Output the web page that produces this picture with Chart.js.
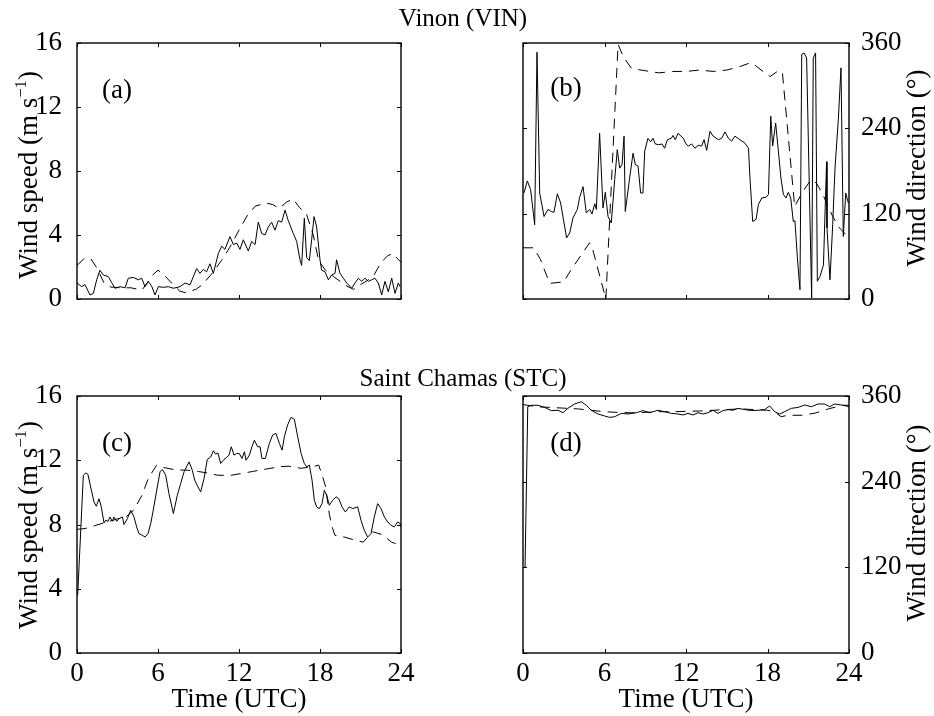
<!DOCTYPE html>
<html>
<head>
<meta charset="utf-8">
<title>Wind speed and direction - Vinon and Saint Chamas</title>
<script src="https://cdn.jsdelivr.net/npm/chart.js@4.4.0/dist/chart.umd.min.js"></script>
<style>
  body { margin: 0; background: #fff; }
  #page { position: relative; width: 934px; height: 716px; font-family: 'Liberation Serif', 'Times New Roman', serif; color: #000; }
  #page canvas { position: absolute; left: 0; top: 0; }
  .txt { position: absolute; white-space: nowrap; transform: translate(-50%, -50%); line-height: 1; font-size: 27px; }
  .rot { transform: translate(-50%, -50%) rotate(-90deg); }
  .title { font-size: 25px; }
  sup { font-size: 0.62em; vertical-align: 0.6em; line-height: 0; }
</style>
</head>
<body>
<div id="page">
  <canvas id="chartA" width="934" height="716"></canvas>
  <canvas id="chartB" width="934" height="716"></canvas>
  <canvas id="chartC" width="934" height="716"></canvas>
  <canvas id="chartD" width="934" height="716"></canvas>

  <div class="txt title" style="left:463px; top:17px;">Vinon (VIN)</div>
  <div class="txt title" style="left:463px; top:377px;">Saint Chamas (STC)</div>

  <div class="txt" style="left:117px; top:89px;">(a)</div>
  <div class="txt" style="left:566px; top:87px;">(b)</div>
  <div class="txt" style="left:117px; top:442px;">(c)</div>
  <div class="txt" style="left:566px; top:442px;">(d)</div>

  <div class="txt rot" style="left:28px; top:175px;">Wind speed (m s<sup>−1</sup>)</div>
  <div class="txt rot" style="left:28px; top:525px;">Wind speed (m s<sup>−1</sup>)</div>
  <div class="txt rot" style="left:916px; top:168px;">Wind direction (°)</div>
  <div class="txt rot" style="left:916px; top:523px;">Wind direction (°)</div>

  <div class="txt" style="left:239px; top:698px;">Time (UTC)</div>
  <div class="txt" style="left:686px; top:698px;">Time (UTC)</div>
</div>

<script>
'use strict'

// Tick labels

const timeTicks = [0, 6, 12, 18, 24];
const speedTicks = [0, 4, 8, 12, 16];
const dirTicks = [0, 120, 240, 360];

// Vinon (VIN) - wind speed, panel (a)
// solid = observed, dashed = model

const vinSpeedObsTime = [0, 0.35, 0.59, 0.96, 1.21, 1.46, 1.70, 1.95, 2.32, 2.81, 3.19, 3.56, 3.80, 4.17, 4.54,
  4.79, 5.04, 5.28, 5.53, 5.78, 6.02, 6.40, 6.77, 7.14, 7.63, 8.0, 8.37, 8.86, 9.11, 9.36,
  9.60, 9.85, 10.10, 10.47, 10.72, 10.96, 11.33, 11.58, 11.83, 12.07, 12.32, 12.69, 12.94, 13.19, 13.43,
  13.68, 13.93, 14.17, 14.42, 14.67, 14.91, 15.16, 15.41, 15.65, 16.02, 16.27, 16.52, 16.64, 16.84, 17.01,
  17.21, 17.38, 17.56, 17.75, 18.0, 18.12, 18.37, 18.62, 18.86, 19.11, 19.23, 19.48, 19.73, 19.98, 20.35,
  20.59, 20.84, 21.09, 21.33, 21.58, 21.83, 22.07, 22.32, 22.57, 22.81, 23.06, 23.31, 23.56, 23.80, 23.93];
const vinSpeedObs = [1.0, 0.77, 0.9, 0.25, 0.35, 1.2, 1.8, 1.5, 1.4, 0.67, 0.77, 0.7, 1.3, 1.35, 1.2,
  1.3, 0.77, 1.1, 0.8, 0.25, 0.77, 0.73, 0.77, 0.67, 0.77, 1.0, 0.88, 1.9, 1.6, 1.85,
  1.7, 2.2, 1.6, 2.85, 3.3, 3.1, 3.9, 3.4, 3.5, 3.1, 3.7, 3.0, 3.6, 3.4, 4.8,
  4.1, 4.0, 4.5, 4.8, 4.3, 4.9, 4.8, 5.55, 4.9, 4.1, 3.6, 2.45, 2.1, 5.05, 2.6,
  2.4, 3.7, 5.15, 4.5, 2.45, 1.8, 1.7, 1.2, 1.5, 1.6, 2.45, 1.6, 1.3, 1.0, 0.67,
  1.0, 1.3, 1.1, 1.3, 1.1, 1.2, 1.3, 1.0, 0.25, 1.1, 0.45, 1.3, 0.35, 1.0, 0.77];
const vinSpeedModTime = [0, 0.5, 1.0, 1.5, 2.0, 2.5, 3.2, 4.0, 4.8, 5.2, 5.6, 6.0, 6.4, 7.0, 7.6,
  8.0, 8.8, 9.3, 10.0, 10.7, 11.3, 12.0, 12.6, 13.2, 14.0, 14.5, 15.0, 15.5, 16.0, 16.5,
  17.0, 17.5, 17.9, 18.4, 19.0, 19.5, 20.0, 20.5, 21.0, 21.5, 22.0, 22.5, 23.0, 23.4, 23.7, 24.0];
const vinSpeedMod = [2.1, 2.5, 2.55, 1.9, 1.0, 0.75, 0.7, 0.7, 0.55, 1.0, 1.5, 1.8, 1.55, 1.0, 0.5,
  0.4, 0.6, 0.9, 1.6, 2.4, 3.2, 4.3, 5.2, 5.8, 6.0, 5.9, 5.65, 6.05, 6.25, 5.7,
  5.3, 4.0, 2.4, 1.8, 1.4, 1.1, 0.8, 0.6, 0.9, 1.15, 1.5, 2.25, 2.7, 2.85, 2.55, 2.3];

// Vinon (VIN) - wind direction, panel (b)

const vinDirObsTime = [0.07, 0.32, 0.56, 0.86, 1.03, 1.23, 1.55, 1.84, 2.09, 2.28, 2.53, 2.77, 3.21, 3.44, 3.68,
  4.0, 4.17, 4.42, 4.66, 4.91, 5.08, 5.28, 5.4, 5.64, 5.89, 6.06, 6.26, 6.5, 6.75, 6.94,
  7.12, 7.29, 7.44, 7.53, 7.85, 8.1, 8.27, 8.47, 8.66, 8.83, 8.96, 9.2, 9.4, 9.57, 9.74,
  9.99, 10.23, 10.43, 10.63, 10.92, 11.04, 11.21, 11.41, 11.8, 12.0, 12.17, 12.42, 12.66, 12.9, 13.15,
  13.33, 13.52, 13.77, 14.0, 14.38, 14.63, 14.87, 15.12, 15.36, 15.6, 15.97, 16.35, 16.6, 16.71, 16.91,
  17.16, 17.33, 17.58, 17.89, 18.07, 18.24, 18.38, 18.6, 18.8, 18.99, 19.17, 19.36, 19.53, 19.71, 19.9,
  20.02, 20.2, 20.39, 20.52, 20.69, 20.88, 21.25, 21.37, 21.54, 21.67, 21.87, 22.12, 22.35, 22.38, 22.6,
  22.8, 22.97, 23.22, 23.41, 23.58, 23.76, 23.95];
const vinDirObs = [149, 166, 154, 104.5, 347, 149, 116, 126, 123, 122, 148, 135, 86, 93, 114,
  126, 143, 158, 121, 126, 119.5, 134, 126, 233, 128, 150, 116, 107, 168, 210,
  184, 189, 229, 123, 170, 205, 189, 187, 149, 149, 208, 226, 221, 226, 218,
  217, 218, 212, 224, 226, 230, 224, 233, 226, 218, 215, 218, 212, 216, 215,
  224, 209, 236, 229, 224, 226, 235, 226, 222, 229, 224, 219, 212, 170, 109,
  112, 133, 142, 143, 147, 257, 215, 247.5, 208, 170, 147, 142, 150, 142, 109,
  110, 58, 13, 344, 346, 339, 1.4, 339, 346, 25, 32, 48, 193, 100, 27,
  104.5, 184, 254, 325, 88, 149, 135];
const vinDirModTime = [0, 0.8, 1.3, 1.96, 3.0, 3.5, 4.9, 5.1, 6.1, 7.0, 7.4, 8.0, 9.0, 10.0, 11.0,
  12.0, 13.0, 14.0, 15.0, 16.0, 16.7, 17.0, 17.8, 18.2, 18.8, 19.1, 20.0, 20.5, 21.2, 21.6,
  22.0, 22.8, 23.3, 24.0];
const vinDirMod = [72, 72, 55, 22, 24, 40, 79, 72, 0, 358, 340, 324, 321, 318, 320,
  320, 322, 320, 322, 327, 332, 330, 318, 313, 321, 318, 130, 148, 168, 163,
  150, 116, 100, 86];

// Saint Chamas (STC) - wind speed, panel (c)

const stcSpeedObsTime = [0.05, 0.47, 0.64, 0.81, 1.01, 1.26, 1.43, 1.63, 1.8, 2.0,
  2.12, 2.3, 2.44, 2.62, 2.74, 2.94, 3.11, 3.36, 3.48, 3.73,
  3.98, 4.22, 4.42, 4.59, 4.84, 5.04, 5.26, 5.46, 5.65, 5.9,
  6.15, 6.32, 6.57, 6.81, 7.14, 7.43, 7.68, 7.93, 8.3, 8.54,
  8.72, 8.96, 9.16, 9.41, 9.65, 9.9, 10.1, 10.27, 10.44, 10.64,
  10.89, 11.09, 11.26, 11.43, 11.63, 11.83, 12.02, 12.22, 12.4, 12.52,
  12.77, 12.96, 13.14, 13.38, 13.56, 13.7, 13.95, 14.25, 14.49, 14.74,
  14.99, 15.19, 15.36, 15.6, 15.85, 16.1, 16.35, 16.6, 16.84, 17.01,
  17.21, 17.41, 17.58, 17.75, 17.95, 18.15, 18.32, 18.49, 18.69, 18.94,
  19.19, 19.38, 19.63, 19.88, 20.17, 20.42, 20.79, 21.04, 21.28, 21.53,
  21.78, 22.02, 22.27, 22.52, 22.77, 23.01, 23.26, 23.51, 23.75, 23.93, 24.0];
const stcSpeedObs = [3.6, 11.07, 11.2, 11.13, 10.34, 9.4, 9.14, 9.6, 9.1, 8.1,
  8.26, 8.2, 8.47, 8.2, 8.47, 8.2, 8.36, 8.47, 8.0, 8.36,
  8.88, 8.47, 7.85, 7.43, 7.33, 7.22, 7.43, 8.06, 8.9, 10.1,
  11.28, 11.43, 11.07, 9.93, 8.68, 9.82, 10.55, 11.28, 11.9, 11.38,
  10.76, 10.34, 10.03, 10.86, 12.05, 12.2, 12.59, 12.38, 12.46, 11.8,
  12.05, 12.18, 12.32, 12.84, 12.32, 12.42, 12.42, 12.11, 12.53, 12.0,
  12.32, 12.84, 13.25, 12.84, 12.84, 12.11, 12.11, 13.05, 13.57, 13.67,
  13.05, 12.63, 13.46, 14.19, 14.67, 14.55, 13.46, 12.42, 11.8, 11.59,
  11.7, 10.76, 9.51, 9.1, 8.99, 9.3, 10.13, 9.82, 9.2, 9.51,
  9.72, 9.62, 9.1, 8.78, 9.1, 8.99, 9.1, 8.26, 7.64, 7.22,
  7.43, 8.47, 9.3, 8.99, 8.47, 8.16, 7.95, 7.85, 8.16, 8.06, 7.85];
const stcSpeedModTime = [0, 0.6, 1.4, 2.0, 3.0, 3.6, 4.2, 4.8, 5.3, 5.9, 6.4, 7.3, 8.2, 9.0, 9.7,
  10.4, 11.3, 12.0, 13.0, 14.0, 15.0, 15.7, 16.6, 17.5, 17.9, 18.15, 18.4, 18.7, 18.9, 19.1,
  19.8, 20.7, 21.2, 21.9, 22.6, 23.3, 24.0];
const stcSpeedMod = [7.7, 7.75, 7.95, 8.1, 8.35, 8.45, 8.9, 9.8, 10.9, 11.7, 11.55, 11.4, 11.38, 11.3, 11.2,
  11.07, 11.05, 11.15, 11.3, 11.45, 11.6, 11.63, 11.5, 11.6, 11.7, 11.1, 10.4, 8.6, 7.85, 7.33,
  7.22, 7.0, 6.9, 7.55, 7.37, 6.9, 6.7];

// Saint Chamas (STC) - wind direction, panel (d)

const stcDirObsTime = [0.15, 0.35, 0.6, 1.1, 1.6, 2.09, 2.58, 2.94, 3.3, 3.8,
  4.29, 4.66, 5.03, 5.52, 6.01, 6.38, 6.75, 7.24, 7.73, 8.34,
  8.83, 9.33, 9.94, 10.43, 10.92, 11.41, 11.78, 12.15, 12.52, 12.88,
  13.25, 13.62, 13.99, 14.36, 14.72, 15.09, 15.46, 15.83, 16.32, 16.81,
  17.3, 17.79, 18.16, 18.53, 18.9, 19.26, 19.75, 20.25, 20.74, 21.23,
  21.72, 22.21, 22.58, 22.94, 23.44, 23.8, 24.0];
const stcDirObs = [119, 345, 347, 347, 344, 339.5, 340, 336.6, 342.7, 348.8,
  352, 347, 340, 334.8, 332, 330, 331, 335.7, 334.8, 336.6,
  339.5, 336.6, 340, 338, 335.7, 334.8, 333.4, 335.7, 333.4, 336.6,
  334.8, 336.6, 340, 335.7, 339.5, 341, 340, 342.7, 341, 339.5,
  340, 341, 346, 338, 334.8, 338, 342.7, 344, 347.4, 345,
  348.8, 348.8, 345, 348.8, 347.4, 346, 345];
const stcDirModTime = [0, 1, 2, 3, 4, 5, 6, 7, 8, 9, 10, 11, 12, 13, 14,
  15, 16, 17, 18, 18.5, 19, 19.5, 20.5, 21.5, 22.5, 23.5, 24];
const stcDirMod = [348, 345, 344, 343, 342, 340, 338, 337, 336.5, 337, 338, 338, 338.5, 339, 340,
  341, 342, 341, 340, 338, 331, 333, 333, 336, 342, 347, 347];

// Layout

const pageW = 934;
const pageH = 716;
const yAxisWidth = 70;
const tickFont = { family: "'Liberation Serif', 'Times New Roman', serif", size: 27 };

function pairs(times, values) {
  return times.map((t, i) => ({ x: t, y: values[i] }));
}

// box with inward tick marks on all four sides, like the original figure
const framePlugin = {
  id: 'frame',
  afterDatasetsDraw(chart) {
    const { ctx, chartArea, scales } = chart;
    const { left, top, right, bottom } = chartArea;
    const len = 4;
    ctx.save();
    ctx.strokeStyle = '#000';
    ctx.lineWidth = 1.4;
    ctx.strokeRect(left, top, right - left, bottom - top);
    ctx.lineWidth = 1;
    ctx.beginPath();
    scales.x.ticks.forEach(t => {
      const px = Math.round(scales.x.getPixelForValue(t.value)) + 0.5;
      ctx.moveTo(px, bottom); ctx.lineTo(px, bottom - len);
      ctx.moveTo(px, top); ctx.lineTo(px, top + len);
    });
    scales.y.ticks.forEach(t => {
      const py = Math.round(scales.y.getPixelForValue(t.value)) + 0.5;
      ctx.moveTo(left, py); ctx.lineTo(left + len, py);
      ctx.moveTo(right, py); ctx.lineTo(right - len, py);
    });
    ctx.stroke();
    ctx.restore();
  }
};

function makeChart(id, cfg) {
  const area = cfg.area;
  const xHeight = cfg.showX ? 50 : 0;
  let padding;
  if (cfg.yPos === 'left') {
    padding = { left: area.left - yAxisWidth, right: pageW - area.right };
  } else {
    padding = { left: area.left, right: pageW - area.right - yAxisWidth };
  }
  padding.top = area.top;
  padding.bottom = pageH - area.bottom - xHeight;

  return new Chart(document.getElementById(id), {
    type: 'line',
    data: {
      datasets: [{
        data: pairs(cfg.obsTime, cfg.obs),
        borderColor: '#000',
        borderWidth: 1,
        pointRadius: 0,
        tension: 0
      },
      {
        data: pairs(cfg.modTime, cfg.mod),
        borderColor: '#000',
        borderWidth: 1,
        borderDash: [10, 7],
        pointRadius: 0,
        tension: 0
      }]
    },
    options: {
      responsive: false,
      animation: false,
      events: [],
      layout: { padding: padding },
      plugins: {
        legend: { display: false },
        tooltip: { enabled: false }
      },
      scales: {
        x: {
          type: 'linear',
          min: 0,
          max: 24,
          grid: { display: false },
          border: { display: false },
          afterBuildTicks: s => { s.ticks = timeTicks.map(v => ({ value: v })); },
          afterFit: s => { s.height = xHeight; },
          ticks: {
            display: cfg.showX,
            color: '#000',
            font: tickFont,
            padding: -3,
            maxRotation: 0,
            autoSkip: false
          }
        },
        y: {
          type: 'linear',
          position: cfg.yPos,
          min: 0,
          max: cfg.yTicks[cfg.yTicks.length - 1],
          grid: { display: false },
          border: { display: false },
          afterBuildTicks: s => { s.ticks = cfg.yTicks.map(v => ({ value: v })); },
          afterFit: s => { s.width = yAxisWidth; },
          ticks: {
            color: '#000',
            font: tickFont,
            padding: cfg.yPos === 'left' ? 7 : 4,
            autoSkip: false
          }
        }
      }
    },
    plugins: [framePlugin]
  });
}

makeChart('chartA', {
  obsTime: vinSpeedObsTime, obs: vinSpeedObs, modTime: vinSpeedModTime, mod: vinSpeedMod,
  yTicks: speedTicks, yPos: 'left', showX: false,
  area: { left: 77, top: 43, right: 401, bottom: 299 }
});

makeChart('chartB', {
  obsTime: vinDirObsTime, obs: vinDirObs, modTime: vinDirModTime, mod: vinDirMod,
  yTicks: dirTicks, yPos: 'right', showX: false,
  area: { left: 523, top: 43, right: 849, bottom: 299 }
});

makeChart('chartC', {
  obsTime: stcSpeedObsTime, obs: stcSpeedObs, modTime: stcSpeedModTime, mod: stcSpeedMod,
  yTicks: speedTicks, yPos: 'left', showX: true,
  area: { left: 77, top: 396, right: 401, bottom: 653 }
});

makeChart('chartD', {
  obsTime: stcDirObsTime, obs: stcDirObs, modTime: stcDirModTime, mod: stcDirMod,
  yTicks: dirTicks, yPos: 'right', showX: true,
  area: { left: 523, top: 396, right: 849, bottom: 653 }
});
</script>
</body>
</html>
